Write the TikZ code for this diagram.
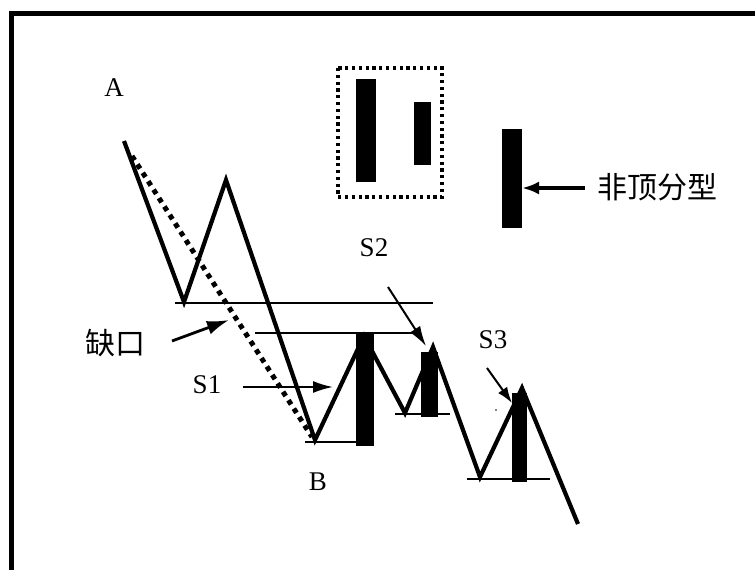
\documentclass[tikz,border=0pt]{standalone}
\usepackage{fontspec}
\setmainfont{Liberation Serif}
\newfontfamily\cjk{Noto Sans CJK SC}
\usetikzlibrary{arrows.meta}
\begin{document}
\begin{tikzpicture}[x=1pt,y=-1pt,
  zig/.style={line width=4.2pt,line join=miter,line cap=butt},
  thin/.style={line width=1.3pt},
  candle/.style={fill=black,draw=none},
  ptr/.style={line width=2pt,-{Latex[length=20pt,width=12pt]}},
  lab/.style={inner sep=0pt,font=\fontsize{27}{27}\selectfont},
  cjklab/.style={inner sep=0pt,font=\cjk\fontsize{30}{30}\selectfont}]
\useasboundingbox (0,0) rectangle (755,570);
\fill[white] (0,0) rectangle (755,570);
% frame
\draw[line width=5pt] (11.5,570) -- (11.5,13) -- (755,13);
% labels
\node[lab] (A) at (114,88) {A};
\node[lab] (B) at (318,482) {B};
\node[lab] (S1) at (207,385) {S1};
\node[lab] (S2) at (374,248) {S2};
\node[lab] (S3) at (493,340) {S3};
\node[cjklab] (gap) at (115,343) {缺口};
\node[cjklab] (nontop) at (657,187) {非顶分型};
% dotted box and its candles
\draw[line width=3.2pt,dash pattern=on 3.2pt off 3.6pt] (338,68) rectangle (442,197);
\fill[candle] (356,79) rectangle (376,182);
\fill[candle] (414,102) rectangle (431,165);
% standalone candle
\fill[candle] (502,129) rectangle (522,228);
\coordinate (c3r) at (522,188);
\coordinate (nt) at (585,188);
\draw[line width=4.5pt,-{Latex[length=17pt,width=13pt]}] (nt) -- (c3r);
% horizontal lines
\coordinate (h1a) at (175,303); \coordinate (h1b) at (433,303);
\coordinate (h2a) at (255,333); \coordinate (h2b) at (420,333);
\coordinate (h3a) at (305,442); \coordinate (h3b) at (357,442);
\coordinate (h4a) at (395,414); \coordinate (h4b) at (450,414);
\coordinate (h5a) at (467,479); \coordinate (h5b) at (550,479);
\draw[thin] (h1a) -- (h1b);
\draw[thin] (h2a) -- (h2b);
\draw[thin] (h3a) -- (h3b);
\draw[thin] (h4a) -- (h4b);
\draw[thin] (h5a) -- (h5b);
% chart candles
\fill[candle] (356,332) rectangle (374,446);
\fill[candle] (421,352) rectangle (438,417);
\fill[candle] (512,393) rectangle (527,482);
% dotted diagonal
\coordinate (d0) at (132,156);
\coordinate (d1) at (312,437);
\draw[line width=5pt,dash pattern=on 5pt off 5pt] (d0) -- (d1);
% zigzag
\coordinate (p0) at (124,141);
\coordinate (p1) at (184,302);
\coordinate (p2) at (226,180);
\coordinate (p3) at (315,440);
\coordinate (p4) at (364,336);
\coordinate (p5) at (405,413);
\coordinate (p6) at (433,347);
\coordinate (p7) at (480,477);
\coordinate (p8) at (522,388);
\coordinate (p9) at (578,524);
\draw[zig] (p0) -- (p1) -- (p2) -- (p3) -- (p4) -- (p5) -- (p6) -- (p7) -- (p8) -- (p9);
% pointer arrows
\coordinate (g0) at (172,341); \coordinate (g1) at (229,320);
\draw[ptr,line width=2.8pt,-{Latex[length=22pt,width=14pt]}] (g0) -- (g1);
\coordinate (s10) at (243,387); \coordinate (s11) at (333,387);
\draw[ptr] (s10) -- (s11);
\coordinate (s20) at (388,287); \coordinate (s21) at (426,346);
\draw[ptr] (s20) -- (s21);
\coordinate (s30) at (487,368); \coordinate (s31) at (512,403);
\draw[ptr,-{Latex[length=16pt,width=11pt]}] (s30) -- (s31);
% stray speck
\fill (496,410) circle (0.8);
\end{tikzpicture}
\end{document}
